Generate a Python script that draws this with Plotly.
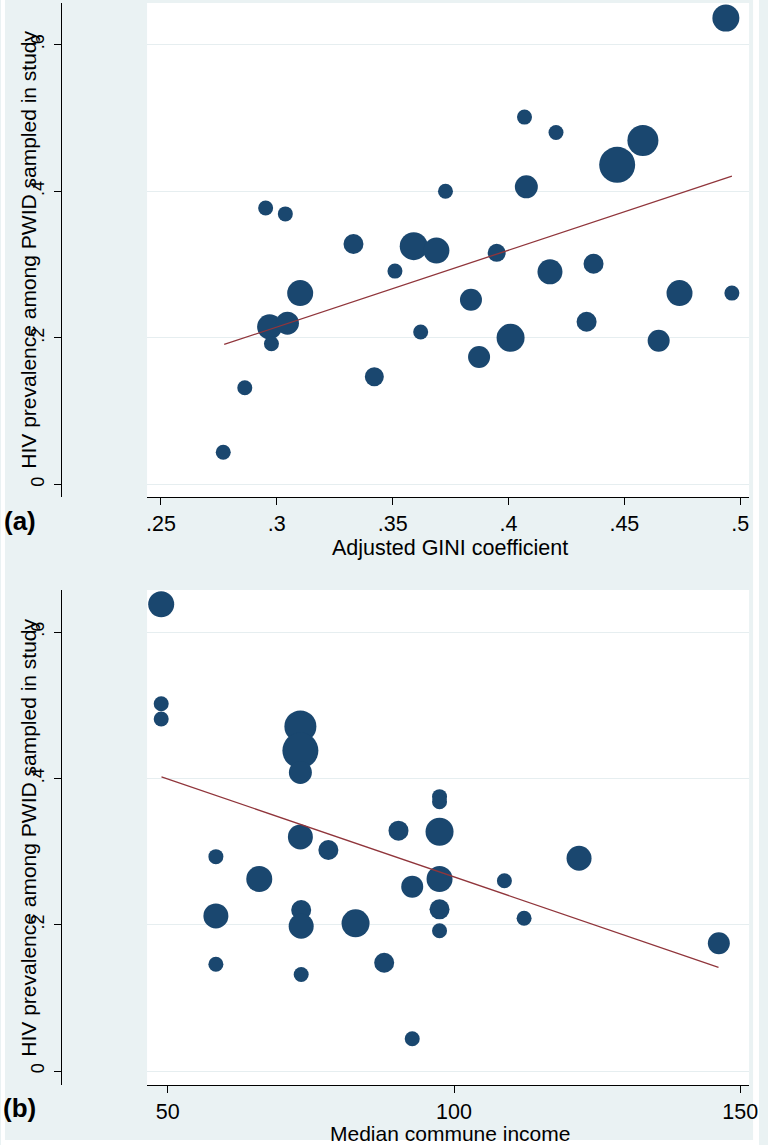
import plotly.graph_objects as go

# ---------------- data ----------------
# Panel (a): HIV prevalence vs adjusted GINI coefficient
gini = [0.4938, 0.4069, 0.4205, 0.4580, 0.4469, 0.3728, 0.4077, 0.3591, 0.3689,
        0.3510, 0.3949, 0.4179, 0.4367, 0.4738, 0.4964, 0.3838, 0.2952, 0.3037,
        0.3331, 0.3101, 0.2969, 0.3046, 0.2977, 0.3621, 0.4009, 0.3873, 0.3421,
        0.2862, 0.2769, 0.4337, 0.4648]
prev_a = [0.636, 0.501, 0.480, 0.469, 0.436, 0.400, 0.406, 0.325, 0.319,
          0.291, 0.316, 0.290, 0.301, 0.261, 0.261, 0.252, 0.377, 0.369,
          0.328, 0.261, 0.215, 0.220, 0.192, 0.208, 0.200, 0.174, 0.147,
          0.132, 0.044, 0.222, 0.196]
bubble_a = [27, 15, 15, 31, 36, 15, 23, 28, 26,
            15, 18, 25, 20, 26, 15, 22, 15, 15,
            20, 26, 25, 23, 15, 15, 28, 22, 19,
            15, 15, 20, 22]
fit_a_x = [0.2773, 0.4964]
fit_a_y = [0.191, 0.4205]

# Panel (b): HIV prevalence vs median commune income
income = [48.85, 48.85, 48.85, 73.16, 73.16, 73.16, 73.16, 78.05, 58.4, 65.98,
          90.3, 97.47, 97.47, 97.47, 97.47, 92.7, 121.84, 108.8, 97.47, 97.47,
          112.24, 146.26, 82.8, 73.3, 73.3, 87.8, 73.3, 92.7, 58.4, 58.4]
prev_b = [0.638, 0.502, 0.481, 0.471, 0.438, 0.408, 0.320, 0.302, 0.293, 0.2625,
          0.3285, 0.327, 0.375, 0.368, 0.2625, 0.252, 0.2908, 0.260, 0.221, 0.1918,
          0.2087, 0.1746, 0.2019, 0.220, 0.198, 0.148, 0.132, 0.0442, 0.212, 0.146]
bubble_b = [26, 15, 15, 32, 36, 23, 25, 20, 15, 26,
            20, 28, 15, 15, 26, 22, 25, 15, 20, 15,
            15, 22, 28, 20, 25, 20, 15, 15, 25, 15]
fit_b_x = [48.9, 146.2]
fit_b_y = [0.402, 0.1418]

xtick_a_vals = [0.25, 0.3, 0.35, 0.4, 0.45, 0.5]
xtick_a_text = [".25", ".3", ".35", ".4", ".45", ".5"]
xtick_b_vals = [50, 100, 150]
xtick_b_text = ["50", "100", "150"]
ytick_vals = [0, 0.2, 0.4, 0.6]
ytick_text = ["0", ".2", ".4", ".6"]

# ---------------- styling ----------------
W, H = 768, 1145
NAVY = "#1a476f"
MAROON = "#90353b"
BG = "#eaf2f3"
GRID = "#e6eef0"
REG = "Liberation Sans, Arial, sans-serif"


def px_x(p):
    return p / W


def px_y(p):
    return 1 - p / H


fig = go.Figure()

fig.add_trace(go.Scatter(x=gini, y=prev_a, mode="markers",
                         marker=dict(size=bubble_a, color=NAVY, opacity=1, line=dict(width=0)),
                         xaxis="x", yaxis="y", showlegend=False))
fig.add_trace(go.Scatter(x=fit_a_x, y=fit_a_y, mode="lines",
                         line=dict(color=MAROON, width=1.3),
                         xaxis="x", yaxis="y", showlegend=False))
fig.add_trace(go.Scatter(x=income, y=prev_b, mode="markers",
                         marker=dict(size=bubble_b, color=NAVY, opacity=1, line=dict(width=0)),
                         xaxis="x2", yaxis="y2", showlegend=False))
fig.add_trace(go.Scatter(x=fit_b_x, y=fit_b_y, mode="lines",
                         line=dict(color=MAROON, width=1.3),
                         xaxis="x2", yaxis="y2", showlegend=False))

xdom = [px_x(148), px_x(758)]
common_x = dict(showline=True, linecolor="black", linewidth=1.3, ticks="outside",
                ticklen=7, tickwidth=1.3, tickcolor="black", showgrid=False,
                zeroline=False, tickfont=dict(family=REG, size=21.5, color="black"),
                domain=xdom)
common_y = dict(showline=True, linecolor="black", linewidth=1.3, ticks="outside",
                ticklen=7, tickwidth=1.3, tickcolor="black", showgrid=True,
                gridcolor=GRID, gridwidth=1, zeroline=False, tickangle=-90,
                tickfont=dict(family=REG, size=18, color="black"),
                tickvals=ytick_vals, ticktext=ytick_text,
                anchor="free", position=px_x(60.5), ticklabelstandoff=2)

fig.update_layout(
    width=W, height=H, autosize=False,
    margin=dict(l=0, r=0, t=0, b=0),
    paper_bgcolor=BG, plot_bgcolor="white",
    xaxis=dict(common_x, anchor="y", range=[0.24403, 0.50384],
               tickvals=xtick_a_vals, ticktext=xtick_a_text),
    yaxis=dict(common_y, domain=[px_y(497), px_y(3)], range=[-0.017, 0.6566]),
    xaxis2=dict(common_x, anchor="y2", range=[46.38, 151.55],
                tickvals=xtick_b_vals, ticktext=xtick_b_text),
    yaxis2=dict(common_y, domain=[px_y(1085), px_y(590)], range=[-0.0191, 0.6574]),
)

# white outer border of the image
for x0, y0, x1, y1 in [(0, 0, 4, H), (762, 0, W, H), (0, 1140, W, H)]:
    fig.add_shape(type="rect", xref="paper", yref="paper",
                  x0=px_x(x0), x1=px_x(x1), y0=px_y(y1), y1=px_y(y0),
                  fillcolor="white", line=dict(width=0), layer="below")

ann = [
    dict(text="HIV prevalence among PWID sampled in study", x=27, y=250, angle=-90,
         font=dict(family=REG, size=21, color="black")),
    dict(text="HIV prevalence among PWID sampled in study", x=27, y=838, angle=-90,
         font=dict(family=REG, size=21, color="black")),
    dict(text="Adjusted GINI coefficient", x=455, y=548, angle=0,
         font=dict(family=REG, size=21.5, color="black")),
    dict(text="Median commune income", x=455, y=1133, angle=0,
         font=dict(family=REG, size=21, color="black")),
    dict(text="<b>(a)</b>", x=19, y=521, angle=0,
         font=dict(family=REG, size=26, color="black")),
    dict(text="<b>(b)</b>", x=19, y=1108, angle=0,
         font=dict(family=REG, size=26, color="black")),
]
for a in ann:
    fig.add_annotation(text=a["text"], xref="paper", yref="paper",
                       x=px_x(a["x"]), y=px_y(a["y"]), xanchor="center",
                       yanchor="middle", showarrow=False, textangle=a["angle"],
                       font=a["font"])

fig.write_html("out.html", config={"displayModeBar": False},
               post_script="document.body.style.margin='0';")
